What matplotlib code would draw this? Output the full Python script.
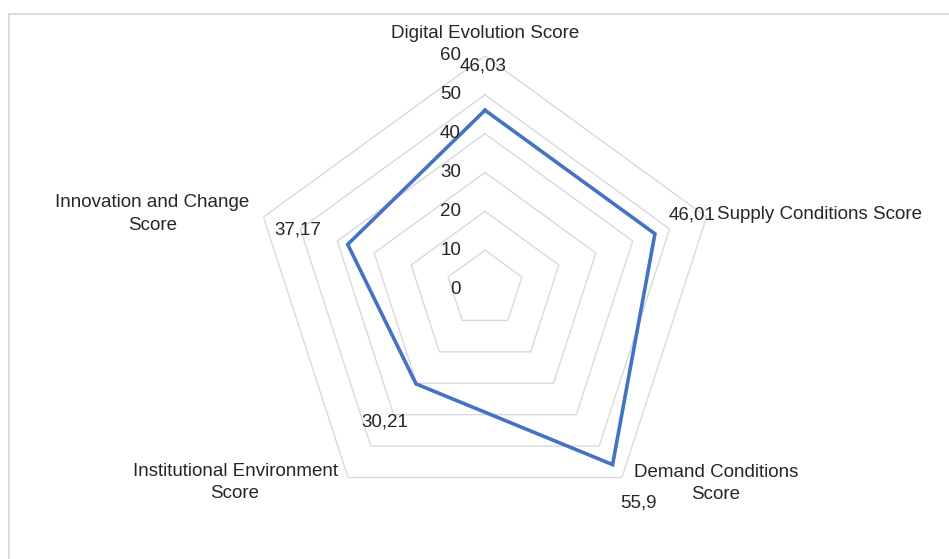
import numpy as np
import matplotlib
matplotlib.use('Agg')
import matplotlib.pyplot as plt
from matplotlib.patches import Rectangle

plt.rcParams['font.family'] = ['Liberation Sans', 'DejaVu Sans']

# data
categories = ['Digital Evolution Score', 'Supply Conditions Score',
              'Demand Conditions\nScore', 'Institutional Environment\nScore',
              'Innovation and Change\nScore']
values = [46.03, 46.01, 55.9, 30.21, 37.17]
value_labels = ['46,03', '46,01', '55,9', '30,21', '37,17']
ticks = [0, 10, 20, 30, 40, 50, 60]

blue = '#4472C4'
grid_c = '#d9d9d9'
txt_c = '#262626'

W, H = 949, 559
fig = plt.figure(figsize=(W / 100, H / 100), dpi=100)

# frame round the chart (left + top edges visible)
fig.add_artist(Rectangle((9 / W, -0.05), 1.2, 1 - 14 / H + 0.05,
                         transform=fig.transFigure, fill=False,
                         edgecolor=grid_c, lw=1.3))

# polar axes placed so that centre sits at (485, 289) px, radius 233 px
cx, cy, R = 485, 289, 233
ax = fig.add_axes([(cx - R) / W, 1 - (cy + R) / H, 2 * R / W, 2 * R / H],
                  projection='polar')
ax.set_theta_zero_location('N')
ax.set_theta_direction(-1)
ax.set_ylim(0, 60)
ax.axis('off')

n = len(categories)
theta = np.linspace(0, 2 * np.pi, n, endpoint=False)
theta_c = np.append(theta, theta[0])

# pentagon grid
for t in ticks[1:]:
    ax.plot(theta_c, [t] * (n + 1), color=grid_c, lw=1.0, zorder=1)

# series
vals_c = values + values[:1]
ax.plot(theta_c, vals_c, color=blue, lw=2.6, zorder=3, solid_joinstyle='miter')

# radial tick labels
for t in ticks:
    ax.annotate(str(t), xy=(0, t), xytext=(-24, 0), textcoords='offset pixels',
                ha='right', va='center', fontsize=13.5, color=txt_c,
                annotation_clip=False)

# data labels
lab_off = [(-2, 44), (37, 19), (26, -38), (-31, -38), (-50, 14)]
for th, v, s, (dx, dy) in zip(theta, values, value_labels, lab_off):
    ax.annotate(s, xy=(th, v), xytext=(dx, dy), textcoords='offset pixels',
                ha='center', va='center', fontsize=13.5, color=txt_c,
                annotation_clip=False)

# category labels
cat_off = [(0, 23, 'center'), (10, 2, 'left'), (94, -6, 'center'),
           (-113, -5, 'center'), (-111, 3, 'center')]
for th, s, (dx, dy, ha) in zip(theta, categories, cat_off):
    ax.annotate(s, xy=(th, 60), xytext=(dx, dy), textcoords='offset pixels',
                ha=ha, va='center', multialignment='center', fontsize=13.5,
                color=txt_c, annotation_clip=False, linespacing=1.4)

fig.savefig('out.png', dpi=100, facecolor='white')
